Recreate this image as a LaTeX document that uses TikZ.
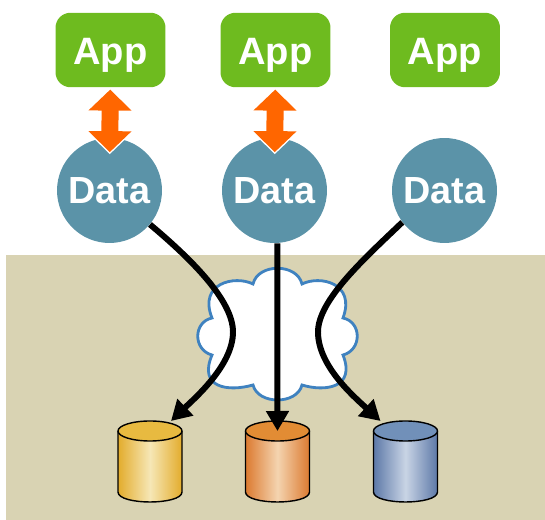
\documentclass[tikz,border=0pt]{standalone}
\usepackage{xcolor}
\usepackage{fontspec}
\setmainfont{Liberation Sans}
\usepackage{tikz}
\usetikzlibrary{arrows.meta}

\definecolor{appgreen}{HTML}{6EBB1F}
\definecolor{datablue}{HTML}{5B93A8}
\definecolor{linkorange}{HTML}{FF6600}
\definecolor{ground}{HTML}{D9D3B3}
\definecolor{cloudline}{HTML}{3F82C0}
\definecolor{yellowedge}{HTML}{E3AC2C}
\definecolor{yellowmid}{HTML}{F6E7B6}
\definecolor{yellowtop}{HTML}{E8BA40}
\definecolor{orangeedge}{HTML}{DC7A30}
\definecolor{orangemid}{HTML}{F4D4B0}
\definecolor{orangetop}{HTML}{E28C34}
\definecolor{blueedge}{HTML}{5D79A8}
\definecolor{bluemid}{HTML}{C9D4E5}
\definecolor{bluetop}{HTML}{7190B9}

\tikzset{
    app/.style={rectangle, rounded corners=0.3cm, fill=appgreen, text=white, minimum width=2.2cm, minimum height=1.49cm, inner sep=0pt, text height=16.5pt, text depth=0pt, font=\fontsize{21.7}{24}\selectfont\bfseries},
    data/.style={circle, fill=datablue, text=white, minimum size=2.1cm, inner sep=0pt, font=\fontsize{21.5}{24}\selectfont\bfseries},
    lid/.style={draw=black, thick},
    link/.style={-{Triangle[length=0.4cm, width=0.44cm]}, line width=3.4pt},
    sync/.style={
        {Triangle[length=0.42cm, width=0.84cm]}-{Triangle[length=0.42cm, width=0.84cm]},
        draw=linkorange, line width=0.34cm, shorten <=0.04cm, shorten >=-0.29cm,
        preaction={draw=white, -{Triangle[length=0.46cm, width=0.92cm]}, shorten >=-0.33cm}},
}

% one store: x position, name, edge, middle and lid colours
\newcommand{\dbstore}[5]{
    \begin{scope}[shift={(#1, 0)}]
        \coordinate (#2) at (0, 421);
        \shade[left color=#3, right color=#3, middle color=#4] (-32, 431) -- (-32, 492)
            .. controls (-32, 505.3) and (32, 505.3) .. (32, 492) -- (32, 431) -- cycle;
        \draw[lid] (-32, 431) -- (-32, 492)
            .. controls (-32, 505.3) and (32, 505.3) .. (32, 492) -- (32, 431);
        \draw[lid, fill=#5] (0, 431) ellipse (32 and 10);
    \end{scope}
}

\begin{document}
\begin{tikzpicture}[x=0.02cm, y=-0.02cm]
    \useasboundingbox (0, 0) rectangle (545, 520);

    \fill[ground] (6, 255) rectangle (545, 520);

    % cloud
    \draw[fill=white, draw=cloudline, line width=1.6pt] (253, 284)
        .. controls (258, 263) and (297, 263) .. (302, 284)
        .. controls (320, 275) and (356, 283) .. (343, 318)
        .. controls (362, 322) and (362, 350) .. (343, 355)
        .. controls (356, 388) and (325, 392) .. (302, 385)
        .. controls (297, 405) and (258, 405) .. (253, 385)
        .. controls (228, 392) and (198, 388) .. (212, 355)
        .. controls (193, 350) and (193, 322) .. (212, 318)
        .. controls (198, 283) and (235, 275) .. (253, 284) -- cycle;

    \node[app] at (110.5, 50) (app1) {App};
    \node[app] at (275.5, 50) (app2) {App};
    \node[app] at (445, 50) (app3) {App};

    \node[data] at (109.5, 190.5) (data1) {Data};
    \node[data] at (274.5, 190.5) (data2) {Data};
    \node[data] at (444.5, 190.5) (data3) {Data};

    \dbstore{150}{store1}{yellowedge}{yellowmid}{yellowtop}
    \dbstore{277.5}{store2}{orangeedge}{orangemid}{orangetop}
    \dbstore{405.5}{store3}{blueedge}{bluemid}{bluetop}

    \draw[sync] (app1) -- (data1);
    \draw[sync] (app2) -- (data2);

    \draw[link] (data1.-40) .. controls (190, 258) and (233, 300) .. (233, 332)
        .. controls (233, 365) and (195, 398) .. ([xshift=0.42cm]store1);
    \draw[link] (data2.-87) -- ([yshift=-0.2cm]store2);
    \draw[link] (data3.217) .. controls (365, 258) and (318, 300) .. (318, 332)
        .. controls (318, 365) and (352, 395) .. ([xshift=-0.5cm]store3);
\end{tikzpicture}
\end{document}
